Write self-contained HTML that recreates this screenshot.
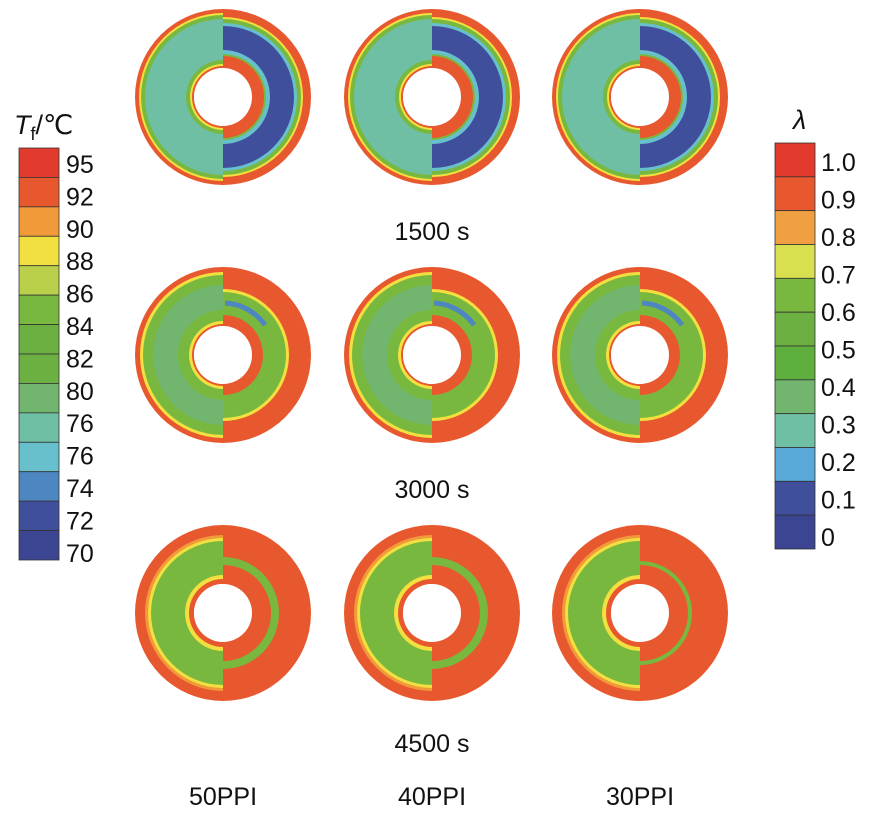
<!DOCTYPE html>
<html><head><meta charset="utf-8"><style>
body{margin:0;background:#fff;width:886px;height:809px;overflow:hidden;font-family:"Liberation Sans",sans-serif}
svg text{font-family:"Liberation Sans","DejaVu Sans",sans-serif;fill:#111}
</style></head><body>
<svg id="s" width="886" height="809" viewBox="0 0 886 809">
<g id="rings"></g>
<g id="legends"></g>
<text x="432" y="240" font-size="25" text-anchor="middle">1500 s</text>
<text x="432" y="498" font-size="25" text-anchor="middle">3000 s</text>
<text x="432" y="752" font-size="25" text-anchor="middle">4500 s</text>
<text x="223" y="805" font-size="25" text-anchor="middle">50PPI</text>
<text x="432" y="805" font-size="25" text-anchor="middle">40PPI</text>
<text x="640" y="805" font-size="25" text-anchor="middle">30PPI</text>
<text x="14" y="134" font-size="27"><tspan font-style="italic">T</tspan><tspan font-size="18" dy="6">f</tspan><tspan dy="-6">/℃</tspan></text>
<text x="793" y="129" font-size="27" font-style="italic">λ</text>
</svg>
<script>
const NS="http://www.w3.org/2000/svg";
const R="#e8582e",RR="#e23a2c",O="#f09a3a",Y="#f2e040",L="#bad04a",G="#78b83e",G2="#6cb042",GT="#72b56e",T="#6fbfa5",C="#68c0cc",B="#4e86c2",DB="#3f4f9c",DB2="#3b4592";
const tempLabels=["95","92","90","88","86","84","82","80","76","76","74","72","70"];
const tempColors=[RR,R,O,Y,L,G,G2,G2,GT,T,C,B,DB,DB2];
const lamLabels=["1.0","0.9","0.8","0.7","0.6","0.5","0.4","0.3","0.2","0.1","0"];
const lamColors=[RR,R,"#f0a040","#d8e050",G,G2,"#5faf3e",GT,T,"#58a8d8",DB,DB2];
const cols=[223,432,640], rows=[97,355,613];
// layers: [outerRadius,color] outer->inner, per half
const rings=[
 {L:[[88,R],[84,Y],[82,G],[78,T],[37,G],[33,Y],[31,R],[29,"#fff"]],
  R:[[88,R],[80,Y],[78,G],[74,C],[71,DB],[47,C],[43,G],[41,R],[29,"#fff"]]},
 {L:[[88,R],[83,Y],[80,G],[70,GT],[45,G],[34,Y],[31,R],[29,"#fff"]],
  R:[[88,R],[66,Y],[63,G],[40,R],[29,"#fff"]]},
 {L:[[88,R],[78,O],[75,Y],[72,G],[38,Y],[34,R],[29,"#fff"]],
  R:[[88,R],[56,G],[48,R],[29,"#fff"]]}
];
const g=document.getElementById('rings');
function half(cx,cy,r,side,color){
  const p=document.createElementNS(NS,'path');
  const sw=side==='L'?0:1;
  p.setAttribute('d',`M${cx},${cy-r} A${r},${r} 0 0 ${side==='L'?0:1} ${cx},${cy+r} Z`);
  p.setAttribute('fill',color);
  return p;
}
rows.forEach((cy,ri)=>{cols.forEach((cx,ci)=>{
  const grp=document.createElementNS(NS,'g');
  
  
  ['L','R'].forEach(s=>{rings[ri][s].forEach(([r,c])=>{
    let rr=r; if(ci===2&&ri===2&&s==='R'&&c===G) rr=r-4;
    if(c==="#fff"){const ci2=document.createElementNS(NS,'circle');ci2.setAttribute('cx',cx);ci2.setAttribute('cy',cy);ci2.setAttribute('r',r);ci2.setAttribute('fill','#fff');grp.appendChild(ci2);}
    else grp.appendChild(half(cx,cy,rr,s,c));
  });});
  // blue arc in row 2 right
  if(ri===1){const a=document.createElementNS(NS,'path');a.setAttribute('d',`M${cx+2},${cy-52} A52,52 0 0 1 ${cx+42},${cy-30}`);a.setAttribute('stroke',B);a.setAttribute('stroke-width',5);a.setAttribute('fill','none');grp.appendChild(a);}
  g.appendChild(grp);
});});
const lg=document.getElementById('legends');
function legend(x,y0,y1,colors,labels,lx,ly0,lstep,name){
  const n=colors.length,h=(y1-y0)/n;
  colors.forEach((c,i)=>{const r=document.createElementNS(NS,'rect');
    r.setAttribute('x',x);r.setAttribute('y',y0+i*h);r.setAttribute('width',40);r.setAttribute('height',h);
    r.setAttribute('fill',c);r.setAttribute('stroke','#333');r.setAttribute('stroke-width',0.8);
    
    lg.appendChild(r);});
  labels.forEach((t,i)=>{const e=document.createElementNS(NS,'text');
    e.setAttribute('x',lx);e.setAttribute('y',ly0+i*lstep);e.setAttribute('font-size',25);e.textContent=t;
    
    lg.appendChild(e);});
}
legend(19,148,560,tempColors,tempLabels,66,173,32.4,'temp-legend');
legend(775,143,549,lamColors,lamLabels,821,171,37.5,'lambda-legend');
</script>
</body></html>
